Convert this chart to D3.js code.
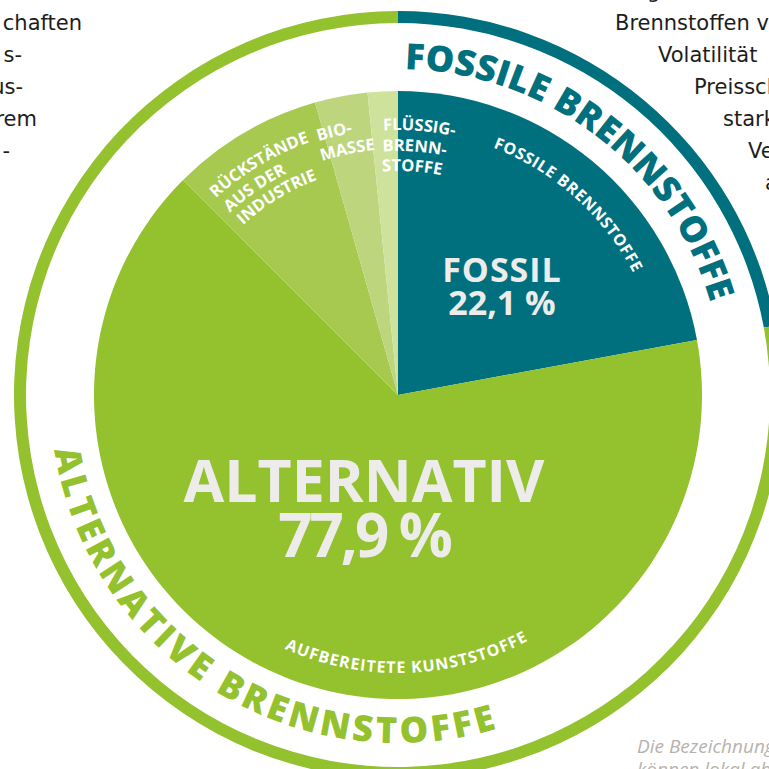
<!DOCTYPE html>
<html>
<head>
<meta charset="utf-8">
<script src="https://cdn.jsdelivr.net/npm/d3@7"></script>
<style>
  body { margin: 0; background: #fff; overflow: hidden; }
  svg { display: block; font-family: "Open Sans", sans-serif; }
</style>
</head>
<body>
<div id="chart"></div>
<script>
// data
var categories = ["Fossile Brennstoffe", "Aufbereitete Kunststoffe", "Rückstände aus der Industrie", "Biomasse", "Flüssigbrennstoffe"];
var groups = ["fossil", "alternativ", "alternativ", "alternativ", "alternativ"];
var shares = [22.1, 65.4, 8.1, 2.8, 1.6];
var groupKeys = ["fossil", "alternativ"];
var groupNames = ["FOSSIL", "ALTERNATIV"];
var ringTitles = ["FOSSILE BRENNSTOFFE", "ALTERNATIVE BRENNSTOFFE"];
var sliceLabels = [["FOSSILE BRENNSTOFFE"], ["AUFBEREITETE KUNSTSTOFFE"], ["RÜCKSTÄNDE", "AUS DER", "INDUSTRIE"], ["BIO-", "MASSE"], ["FLÜSSIG-", "BRENN-", "STOFFE"]];
var colors = ["#00707e", "#94c12e", "#a7c950", "#bdd67e", "#cfe29c"];

// surrounding page text (cut by the frame)
var leftText = ["chaften", "s-", "us-", "rem", "-"];
var rightText = ["g", "Brennstoffen verbunden", "Volatilität", "Preisschwankungen", "starken", "Veränderungen", "ausgesetzt"];
var noteText = ["Die Bezeichnungen", "können lokal abweichen"];

var width = 769, height = 769,
    cx = 398, cy = 395,
    radius = 304;

var rad = function(a) { return a * Math.PI / 180; };
var locale = d3.formatLocale({decimal: ",", thousands: ".", grouping: [3], currency: ["", " €"]});
var fmt = locale.format(".1f");

var svg = d3.select("#chart").append("svg")
    .attr("width", width)
    .attr("height", height);
var defs = svg.append("defs");

// page text
svg.append("g")
    .style("font-family", "'DejaVu Sans', sans-serif")
    .style("font-size", "21px")
    .attr("fill", "#1d1d1b")
    .selectAll("text")
    .data(leftText)
    .enter().append("text")
        .attr("text-anchor", "end")
        .attr("x", function(d, i) { return [82, 22, 23, 37, 10][i]; })
        .attr("y", function(d, i) { return 30 + i * 32; })
        .text(function(d) { return d; });

svg.append("g")
    .style("font-family", "'DejaVu Sans', sans-serif")
    .style("font-size", "21px")
    .attr("fill", "#1d1d1b")
    .selectAll("text")
    .data(rightText)
    .enter().append("text")
        .attr("x", function(d, i) { return [647, 615, 658, 694, 723, 748, 765][i]; })
        .attr("y", function(d, i) { return -2 + i * 32; })
        .text(function(d) { return d; });

svg.append("g")
    .style("font-size", "19px")
    .style("font-style", "italic")
    .attr("fill", "#b7b2ad")
    .selectAll("text")
    .data(noteText)
    .enter().append("text")
        .attr("x", 637)
        .attr("y", function(d, i) { return 753 + i * 23; })
        .text(function(d) { return d; });

var g = svg.append("g")
    .attr("transform", "translate(" + cx + "," + cy + ")");

var pie = d3.pie().sort(null).value(function(d) { return d; });
var arcs = pie(shares);

var arc = d3.arc().innerRadius(0).outerRadius(radius);

g.append("g")
    .selectAll("path")
    .data(arcs)
    .enter()
    .append("path")
        .attr("d", arc)
        .attr("fill", function(d, i) { return colors[i]; });

// outer ring, one piece per group
var ringData = groupKeys.map(function(k) {
    var parts = arcs.filter(function(d, i) { return groups[i] == k; });
    return {
        key: k,
        startAngle: d3.min(parts, function(d) { return d.startAngle; }),
        endAngle: d3.max(parts, function(d) { return d.endAngle; }),
        total: d3.sum(parts, function(d) { return d.value; }),
        color: colors[arcs.indexOf(parts[0])]
    };
});

var ring = d3.arc().innerRadius(372).outerRadius(384);
g.append("g")
    .selectAll("path")
    .data(ringData)
    .enter()
    .append("path")
        .attr("d", ring)
        .attr("fill", function(d) { return d.color; });

// text along circle arcs, angles in degrees clockwise from 12 o'clock
function arcPath(r, a0, a1) {
    var x0 = r * Math.sin(a0), y0 = -r * Math.cos(a0),
        x1 = r * Math.sin(a1), y1 = -r * Math.cos(a1);
    return "M" + x0 + "," + y0 + "A" + r + "," + r + " 0 " +
        (Math.abs(a1 - a0) > Math.PI ? 1 : 0) + " " + (a1 > a0 ? 1 : 0) + " " + x1 + "," + y1;
}

var pathId = 0;
function arcText(parent, str, r, a0, a1, size, color, fit, weight) {
    var id = "arcpath" + (pathId++);
    var dir = a1 > a0 ? 1 : -1;
    weight = weight || 700;
    var probe = parent.append("text")
        .attr("font-size", size)
        .attr("font-weight", weight)
        .text(str);
    var natural = probe.node().getComputedTextLength();
    probe.remove();
    var spacing = fit ? (r * rad(Math.abs(a1 - a0)) - natural) / (str.length - 1) : 0;
    var end = fit ? a1 + dir * 8 : a0 + dir * 80;
    defs.append("path").attr("id", id).attr("d", arcPath(r, rad(a0), rad(end)));
    parent.append("text")
        .attr("font-size", size)
        .attr("font-weight", weight)
        .attr("fill", color)
        .attr("letter-spacing", spacing)
        .append("textPath")
            .attr("href", "#" + id)
            .text(str);
}

// ring titles
arcText(g, ringTitles[0], 326, 1.2, 73.5, 36, ringData[0].color, true, 800);
arcText(g, ringTitles[1], 348, 260.9, 163.6, 36, ringData[1].color, true, 800);

// slice labels
arcText(g, sliceLabels[0][0], 265, 21, 62.5, 16, "#ffffff", true);
arcText(g, sliceLabels[1][0], 278, 204.1, 152.2, 16, "#ffffff", true);

var multiLayout = [
    null, null,
    {start: [317.2, 317.3, 317.6], r: [268, 248, 230]},
    {start: [342.6, 342.0], r: [266, 246]},
    {start: [356.8, 356.4, 356.0], r: [265, 244, 224]}
];
multiLayout.forEach(function(l, i) {
    if (!l) return;
    sliceLabels[i].forEach(function(line, j) {
        arcText(g, line, l.r[j], l.start[j], l.start[j] + 60, 16.5, "#ffffff", false);
    });
});

// group totals in the middle
var bigLayout = [
    {x: 104, y: [-113, -80], size: [34, 34], spacing: [1, 0]},
    {x: -34, y: [107, 162], size: [59, 60], spacing: [0, -3]}
];
ringData.forEach(function(d, i) {
    var b = bigLayout[i];
    var t = g.append("text")
        .attr("text-anchor", "middle")
        .attr("font-weight", 700)
        .attr("fill", "#eeeceb");
    t.append("tspan")
        .attr("x", b.x).attr("y", b.y[0])
        .attr("font-size", b.size[0])
        .attr("letter-spacing", b.spacing[0])
        .text(groupNames[i]);
    t.append("tspan")
        .attr("x", b.x).attr("y", b.y[1])
        .attr("font-size", b.size[1])
        .attr("letter-spacing", b.spacing[1])
        .text(fmt(d.total) + " %");
});
</script>
</body>
</html>
